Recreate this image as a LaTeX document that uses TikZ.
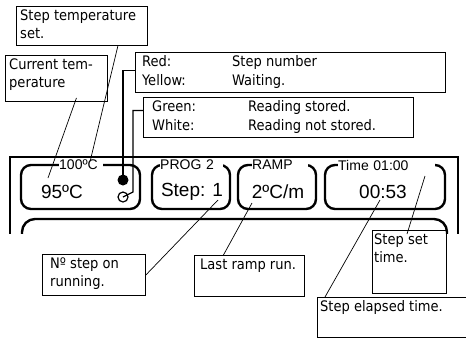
\documentclass[tikz,border=0pt]{standalone}
\usepackage{fontspec}
\setmainfont{DejaVu Sans Condensed}
\newfontfamily\panelfont{Liberation Sans}
\usetikzlibrary{positioning}

\tikzset{
  notebox/.style={draw, line width=0.9pt, anchor=north west, inner sep=0pt},
  notetext/.style={anchor=north west, inner xsep=4pt, inner ysep=3.5pt, align=left, font=\fontsize{14.5}{18}\selectfont},
  leader/.style={line width=0.7pt},
  wire/.style={line width=1.3pt},
  cell/.style={line width=2.4pt, rounded corners=10pt},
  celltag/.style={fill=white, anchor=west, inner xsep=0pt, inner ysep=0pt, align=left, font=\panelfont\fontsize{14}{14}\selectfont},
  cellval/.style={font=\panelfont\fontsize{19}{19}\selectfont},
}

\begin{document}
\begin{tikzpicture}[x=1pt, y=-1pt]
    \useasboundingbox (0,0) rectangle (466,338);

    % panel, cut off at the bottom
    \begin{scope}
        \clip (0,0) rectangle (466,233);
        \draw[line width=2pt] (10,157) rectangle (458,300);
        \draw[cell, rounded corners=13pt] (22,219) rectangle (447,300);
    \end{scope}

    % top cells of the display
    \foreach \name/\xa/\xb/\tx/\tw/\tag/\vx/\val in {
        temp/21/140/59/44/{100ºC}/62/{95ºC},
        prog/152/230/160/63/{PROG 2}/192/{Step: 1},
        ramp/238/316/252/56/{RAMP}/278/{2ºC/m},
        time/325/445/338/97/{Time 01:00}/383/{00:53}} {
        \draw[cell] (\xa,165) rectangle (\xb,209);
        \node[celltag, text width=\tw pt] (\name-tag) at (\tx,165) {\tag};
        \node[cellval] (\name-val) at (\vx,192) {\val};
    }
    \node[circle, fill, inner sep=0pt, minimum size=11pt] (dot) at (123,180) {};
    \node[circle, draw, line width=1.2pt, inner sep=0pt, minimum size=10pt] (ring) at (123,197) {};

    % notes
    \node[notebox, minimum width=131pt, minimum height=39pt] (tempset) at (16,6) {};
    \node[notetext] (tempset-txt) at (tempset.north west) {Step temperature\\set.};
    \node[notebox, minimum width=102pt, minimum height=46pt] (curtemp) at (5,55) {};
    \node[notetext] (curtemp-txt) at (curtemp.north west) {Current tem-\\perature};
    \node[notebox, minimum width=310pt, minimum height=40pt] (redbox) at (135,52) {};
    \node[notetext, inner xsep=7pt, font=\fontsize{14.5}{19}\selectfont] (redbox-txt) at (redbox.north west)
        {\makebox[90pt][l]{Red:}Step number\\\makebox[90pt][l]{Yellow:}Waiting.};
    \node[notebox, minimum width=270pt, minimum height=40pt] (greenbox) at (143,97) {};
    \node[notetext, inner xsep=9pt, font=\fontsize{14.5}{19}\selectfont] (greenbox-txt) at (greenbox.north west)
        {\makebox[96pt][l]{Green:}Reading stored.\\\makebox[96pt][l]{White:}Reading not stored.};
    \node[notebox, minimum width=103pt, minimum height=41pt] (nstep) at (42,254) {};
    \node[notetext, inner xsep=8pt] (nstep-txt) at (nstep.north west) {Nº step on\\running.};
    \node[notebox, minimum width=110pt, minimum height=41pt] (lastramp) at (194,255) {};
    \node[notetext, inner xsep=6pt] (lastramp-txt) at (lastramp.north west) {Last ramp run.};
    \node[notebox, minimum width=160pt, minimum height=40pt] (elapsed) at (317,297) {};
    \node[notetext, inner xsep=3pt] (elapsed-txt) at (elapsed.north west) {Step elapsed time.};
    \node[notebox, minimum width=74pt, minimum height=63pt] (stepset) at (372,230) {};
    \node[notetext, inner xsep=2pt] (stepset-txt) at (stepset.north west) {Step set\\time.};

    % wires to the lamps
    \coordinate (ringbend) at (133,192);
    \draw[wire] ([yshift=2pt]redbox.west) -| (dot.center);
    \draw[wire] ([yshift=7pt]greenbox.west) -| (ringbend) -- (ring.center);

    % leaders
    \draw[leader] ([xshift=-30pt]tempset.south east) -- ([xshift=9pt,yshift=4pt]temp-tag.center);
    \draw[leader] ([xshift=20pt,yshift=4pt]curtemp.south) -- ([xshift=-14pt,yshift=14pt]temp-val.center);
    \draw[leader] (nstep.east) -- ([xshift=26pt,yshift=-8pt]prog-val.center);
    \draw[leader] ([xshift=-26pt]lastramp.north) -- ([xshift=-26pt,yshift=-11pt]ramp-val.center);
    \draw[leader] ([xshift=8pt]elapsed.north west) -- ([xshift=-3pt,yshift=-8pt]time-val.center);
    \draw[leader] ([xshift=35pt,yshift=-4pt]stepset.north west) -- ([xshift=42pt,yshift=16pt]time-val.center);
\end{tikzpicture}
\end{document}
